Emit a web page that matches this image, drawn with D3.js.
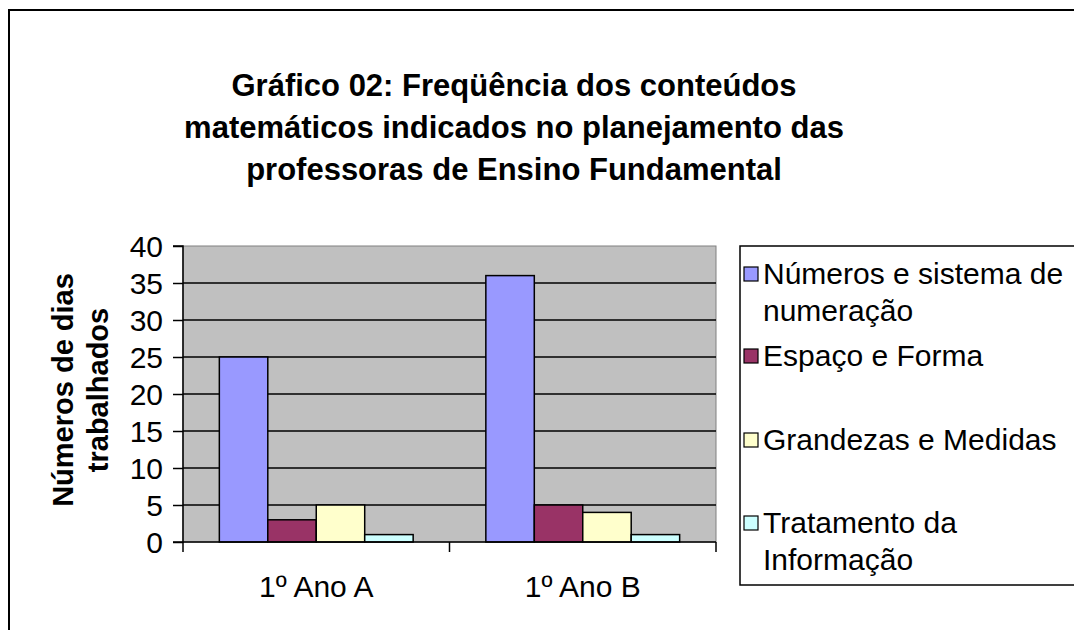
<!DOCTYPE html>
<html><head><meta charset="utf-8">
<script src="https://cdn.jsdelivr.net/npm/d3@7"></script>
<style>body{margin:0;background:#fff}svg{display:block;font-family:"Liberation Sans",Arial,sans-serif}</style>
</head><body>
<script>
const categories = ["1º Ano A", "1º Ano B"];
const seriesNames = ["Números e sistema de numeração", "Espaço e Forma", "Grandezas e Medidas", "Tratamento da Informação"];
const seriesValues = [
  [25, 36],
  [3, 5],
  [5, 4],
  [1, 1]
];
const seriesColors = ["#9999FF", "#993366", "#FFFFCC", "#CCFFFF"];
const yTicks = [0, 5, 10, 15, 20, 25, 30, 35, 40];
const titleLines = ["Gráfico 02: Freqüência dos conteúdos", "matemáticos indicados no planejamento das", "professoras de Ensino Fundamental"];
const yTitleLines = ["Números de dias", "trabalhados"];
const legendLines = [["Números e sistema de", "numeração"], ["Espaço e Forma"], ["Grandezas e Medidas"], ["Tratamento da", "Informação"]];

const W = 1074, H = 630;
const FONT = "Liberation Sans, Arial, sans-serif";
const svg = d3.select("body").append("svg").attr("width", W).attr("height", H);

// outer chart border
svg.append("rect").attr("x", 9).attr("y", 10).attr("width", 1100).attr("height", 700)
  .attr("fill", "#fff").attr("stroke", "#000").attr("stroke-width", 2);

// title
svg.append("g").selectAll("text").data(titleLines).join("text")
  .attr("x", 514).attr("y", (d, i) => 96 + i * 42)
  .attr("text-anchor", "middle").attr("font-size", 31).attr("font-weight", "bold").text(d => d);

const plot = {left: 183, top: 246, right: 716, bottom: 542};
const x0 = d3.scaleBand().domain(categories).range([plot.left, plot.right]).paddingInner(0).paddingOuter(0);
const x1 = d3.scaleBand().domain(d3.range(seriesNames.length)).range([0, x0.bandwidth()]).paddingInner(0).paddingOuter(0.75);
const y = d3.scaleLinear().domain([0, 40]).range([plot.bottom, plot.top]);

svg.append("rect").attr("x", plot.left).attr("y", plot.top).attr("width", plot.right - plot.left)
  .attr("height", plot.bottom - plot.top).attr("fill", "#C0C0C0").attr("stroke", "#808080").attr("stroke-width", 1);

// gridlines
svg.append("g").selectAll("line").data(yTicks.filter(t => t > 0 && t < 40)).join("line")
  .attr("x1", plot.left).attr("x2", plot.right).attr("y1", d => y(d)).attr("y2", d => y(d))
  .attr("stroke", "#000").attr("stroke-width", 1.5);

// bars
const data = [];
seriesNames.forEach((s, si) => categories.forEach((c, ci) => data.push({s: si, c, v: seriesValues[si][ci]})));
svg.append("g").selectAll("rect").data(data).join("rect")
  .attr("x", d => x0(d.c) + x1(d.s)).attr("width", x1.bandwidth())
  .attr("y", d => y(d.v)).attr("height", d => y(0) - y(d.v))
  .attr("fill", d => seriesColors[d.s]).attr("stroke", "#000").attr("stroke-width", 1.5);

// y axis
const yAxis = d3.axisLeft(y).tickValues(yTicks).tickSize(10).tickPadding(10);
const gy = svg.append("g").attr("transform", `translate(${plot.left},0)`).call(yAxis);
gy.select(".domain").attr("stroke", "#000").attr("stroke-width", 1.5).attr("d", `M-10,${plot.top}H0V${plot.bottom}H-10`);
gy.selectAll(".tick line").attr("stroke", "#000").attr("stroke-width", 1.5);
gy.selectAll(".tick text").attr("font-size", 30).attr("font-family", FONT).attr("fill", "#000").attr("dy", "0.36em");

// x axis
const xAxis = d3.axisBottom(x0).tickSize(0).tickPadding(34);
const gx = svg.append("g").attr("transform", `translate(0,${plot.bottom})`).call(xAxis);
gx.select(".domain").attr("stroke", "#000").attr("stroke-width", 1.5).attr("d", `M${plot.left},0H${plot.right}`);
gx.selectAll(".tick text").attr("font-size", 30).attr("font-family", FONT).attr("fill", "#000");
const bounds = [plot.left, ...categories.map(c => x0(c) + x0.bandwidth())];
gx.selectAll("line.bound").data(bounds).join("line").attr("class", "bound")
  .attr("x1", d => d).attr("x2", d => d).attr("y1", 0).attr("y2", 10).attr("stroke", "#000").attr("stroke-width", 1.5);

// y title
svg.append("g").attr("transform", `translate(0,${(plot.top + plot.bottom) / 2 - 4}) rotate(-90)`)
  .selectAll("text").data(yTitleLines).join("text")
  .attr("x", 0).attr("y", (d, i) => 73 + i * 35).attr("text-anchor", "middle")
  .attr("font-size", 29).attr("font-weight", "bold").text(d => d);

// legend
svg.append("rect").attr("x", 740).attr("y", 246).attr("width", 400).attr("height", 339)
  .attr("fill", "#fff").attr("stroke", "#000").attr("stroke-width", 1.5);
const legendY = [274, 356, 440, 523];
const lg = svg.append("g").selectAll("g").data(seriesNames).join("g")
  .attr("transform", (d, i) => `translate(744,${legendY[i]})`);
lg.append("rect").attr("x", 0).attr("y", -7).attr("width", 14).attr("height", 14)
  .attr("fill", (d, i) => seriesColors[i]).attr("stroke", "#000").attr("stroke-width", 1.2);
lg.each(function(d, i) {
  d3.select(this).selectAll("text").data(legendLines[i]).join("text")
    .attr("x", 19).attr("y", (t, j) => 10 + j * 37).attr("font-size", 30).text(t => t);
});
</script>
</body></html>
